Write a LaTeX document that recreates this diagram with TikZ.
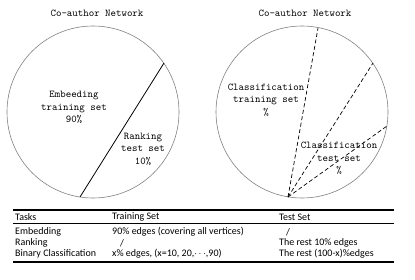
\documentclass[tikz,border=0pt]{standalone}
\usepackage{fontspec}
\newfontfamily\tabfont{Carlito}
\begin{document}
\begin{tikzpicture}[x=1pt,y=-1pt,
  circ/.style={draw=black!50,line width=0.6pt},
  cut/.style={draw=black,line width=0.8pt},
  dcut/.style={draw=black,line width=0.7pt,dash pattern=on 4pt off 2.5pt},
  lab/.style={font=\ttfamily\fontsize{10.4}{12.5}\selectfont,align=center,inner sep=0pt},
  tab/.style={font=\tabfont\fontsize{10}{11}\selectfont,anchor=west,inner sep=0pt},
  thick rule/.style={draw=black,line width=1.4pt},
  thin rule/.style={draw=black,line width=0.6pt}]
\useasboundingbox (0,0) rectangle (415,279);
% left circle
\node[circ,circle,minimum size=172pt,inner sep=0pt] (lc) at (93,112) {};
\coordinate (l1) at (164,63);
\coordinate (l2) at (80,197);
\draw[cut] (l1) -- (l2);
\node[lab] (lt) at (97,13) {Co-author Network};
\node[lab] (emb) at (74,107.5) {Embeeding\\training set\\90\%};
\node[lab] (rank) at (143,149) {Ranking\\test set\\10\%};
% right circle
\node[circ,circle,minimum size=172pt,inner sep=0pt] (rc) at (302,112) {};
\coordinate (r0) at (288,197);
\coordinate (r1) at (318,28);
\coordinate (r2) at (373,63);
\coordinate (r3) at (387,126);
\draw[dcut] (r0) -- (r1);
\draw[dcut] (r0) -- (r2);
\draw[dcut] (r0) -- (r3);
\node[lab] (rt) at (305,13) {Co-author Network};
\node[lab] (ctr) at (266,100) {Classification\\training set\\\%};
\node[lab] (cte) at (339,158.5) {Classification\\test set\\\%};
% table
\coordinate (t1a) at (13,210); \coordinate (t1b) at (394,210);
\coordinate (t2a) at (13,223); \coordinate (t2b) at (394,223);
\coordinate (t3a) at (13,262); \coordinate (t3b) at (394,262);
\draw[thick rule] (t1a) -- (t1b);
\draw[thin rule] (t2a) -- (t2b);
\draw[thick rule] (t3a) -- (t3b);
\node[tab] (h1) at (15,217) {Tasks};
\node[tab] (h2) at (112,217) {Training Set};
\node[tab] (h3) at (279,217) {Test Set};
\node[tab] (a1) at (15,232) {Embedding};
\node[tab] (a2) at (112,232) {90\% edges (covering all vertices)};
\node[tab] (a3) at (286,232) {/};
\node[tab] (b1) at (15,243) {Ranking};
\node[tab] (b2) at (120,243) {/};
\node[tab] (b3) at (279,243) {The rest 10\% edges};
\node[tab] (c1) at (15,254) {Binary Classification};
\node[tab] (c2) at (112,254) {x\% edges, (x=10, 20,$\cdots$,90)};
\node[tab] (c3) at (279,254) {The rest (100-x)\%edges};
\end{tikzpicture}
\end{document}
